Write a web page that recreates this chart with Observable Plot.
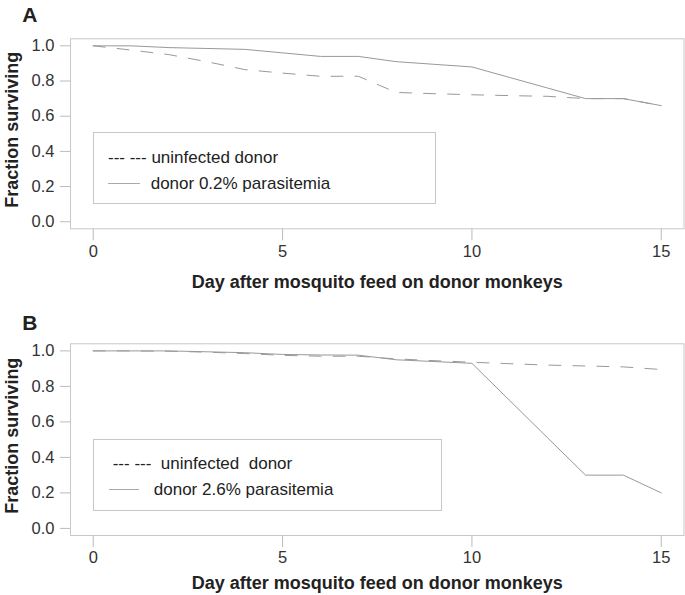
<!DOCTYPE html>
<html>
<head>
<meta charset="utf-8">
<script src="https://cdn.jsdelivr.net/npm/d3@7"></script>
<script src="https://cdn.jsdelivr.net/npm/@observablehq/plot@0.6"></script>
<style>
  html, body { margin: 0; padding: 0; background: #fff; }
  #root { width: 685px; font-family: "Liberation Sans", Arial, Helvetica, sans-serif; }
  .panel { position: relative; width: 685px; }
  .panel svg { display: block; overflow: visible; }
  .legend { position: absolute; border: 1px solid #c8c8c8; box-sizing: border-box; background: transparent; }
  .lg-text { position: absolute; font-size: 17px; color: #222; white-space: pre; line-height: 1; transform: translateY(-50%); }
  .lg-line { position: absolute; height: 0; border-top: 1px solid #aaa; }
</style>
</head>
<body>
<div id="root"></div>
<script>
// ---- data ----
const days = [0, 1, 2, 3, 4, 5, 6, 7, 8, 9, 10, 11, 12, 13, 14, 15];
const aUninfected = [1.0, 0.976, 0.95, 0.91, 0.865, 0.845, 0.827, 0.827, 0.735, 0.728, 0.722, 0.717, 0.713, 0.70, 0.70, 0.66];
const aDonor      = [1.0, 1.0, 0.99, 0.985, 0.98, 0.96, 0.94, 0.94, 0.91, 0.895, 0.88, 0.82, 0.76, 0.70, 0.70, 0.66];
const bUninfected = [1.0, 1.0, 0.998, 0.993, 0.985, 0.975, 0.97, 0.97, 0.955, 0.945, 0.936, 0.928, 0.92, 0.915, 0.91, 0.895];
const bDonor      = [1.0, 1.0, 1.0, 0.995, 0.99, 0.98, 0.977, 0.976, 0.95, 0.94, 0.93, 0.72, 0.51, 0.30, 0.30, 0.20];
const xTicks = [0, 5, 10, 15];
const yTicks = [0, 0.2, 0.4, 0.6, 0.8, 1.0];
const xTitle = "Day after mosquito feed on donor monkeys";
const yTitle = "Fraction surviving";
const panelA = {letter: "A", uninf: aUninfected, donor: aDonor,
  legend1: "--- --- uninfected donor", legend2: "donor 0.2% parasitemia"};
const panelB = {letter: "B", uninf: bUninfected, donor: bDonor,
  legend1: "--- ---  uninfected  donor", legend2: "donor 2.6% parasitemia"};

function makePanel(p, layout) {
  const uninfRows = days.map((d, i) => ({day: d, v: p.uninf[i]}));
  const donorRows = days.map((d, i) => ({day: d, v: p.donor[i]}));
  const chart = Plot.plot({
    width: 685,
    height: layout.height,
    marginLeft: 70,
    marginRight: 1.5,
    marginTop: layout.mt,
    marginBottom: layout.mb,
    style: {fontFamily: "'Liberation Sans', Arial, Helvetica, sans-serif", fontSize: "16px", color: "#333", background: "transparent", overflow: "visible"},
    x: {domain: [-0.6, 15.6]},
    y: {domain: [-0.04, 1.04]},
    marks: [
      Plot.frame({stroke: "#c8c8c8", strokeWidth: 1}),
      Plot.axisX({ticks: xTicks, tickFormat: d => String(d), tickSize: 12, tickPadding: 4, stroke: "#bbb", fill: "#333", fontSize: 16.5, label: null}),
      Plot.axisY({ticks: yTicks, tickFormat: d3.format(".1f"), tickSize: 10, tickPadding: 6, stroke: "#bbb", fill: "#333", fontSize: 16.5, label: null}),
      Plot.line(uninfRows, {x: "day", y: "v", stroke: "#999", strokeWidth: 1, strokeDasharray: "12,12"}),
      Plot.line(donorRows, {x: "day", y: "v", stroke: "#999", strokeWidth: 1}),
      Plot.text([xTitle], {frameAnchor: "bottom", dy: layout.titleDy, lineAnchor: "middle", fontSize: 18, fontWeight: "bold", fill: "#222"}),
      Plot.text([yTitle], {frameAnchor: "left", dx: -58, dy: -4, rotate: -90, lineAnchor: "middle", textAnchor: "middle", fontSize: 18, fontWeight: "bold", fill: "#222"}),
      Plot.text([p.letter], {frameAnchor: "top-left", dx: -48.3, dy: layout.letterDy, textAnchor: "start", lineAnchor: "middle", fontSize: 21, fontWeight: "bold", fill: "#222"})
    ]
  });
  const div = document.createElement("div");
  div.className = "panel";
  div.style.height = layout.height + "px";
  div.appendChild(chart);
  const lg = layout.legend;
  const box = document.createElement("div");
  box.className = "legend";
  box.style.left = lg.left + "px"; box.style.top = lg.top + "px";
  box.style.width = lg.width + "px"; box.style.height = lg.height + "px";
  div.appendChild(box);
  const t1 = document.createElement("div");
  t1.className = "lg-text"; t1.textContent = p.legend1;
  t1.style.left = lg.t1x + "px"; t1.style.top = lg.y1 + "px";
  div.appendChild(t1);
  const ln = document.createElement("div");
  ln.className = "lg-line";
  ln.style.left = lg.lx0 + "px"; ln.style.width = (lg.lx1 - lg.lx0) + "px"; ln.style.top = lg.y2 + "px";
  div.appendChild(ln);
  const t2 = document.createElement("div");
  t2.className = "lg-text"; t2.textContent = p.legend2;
  t2.style.left = lg.t2x + "px"; t2.style.top = lg.y2 + "px";
  div.appendChild(t2);
  return div;
}

const root = document.getElementById("root");
root.appendChild(makePanel(panelA, {height: 300, mt: 38.3, mb: 71.7, letterDy: -23.3, titleDy: 53.4,
  legend: {left: 93, top: 132, width: 343, height: 72, t1x: 108, y1: 156.7, lx0: 108, lx1: 140, y2: 183.3, t2x: 150.7}}));
root.appendChild(makePanel(panelB, {height: 295, mt: 43.3, mb: 60, letterDy: -21, titleDy: 47.5,
  legend: {left: 93, top: 139, width: 349, height: 72, t1x: 112.7, y1: 163.3, lx0: 109, lx1: 139, y2: 189.3, t2x: 153.8}}));
</script>
</body>
</html>
